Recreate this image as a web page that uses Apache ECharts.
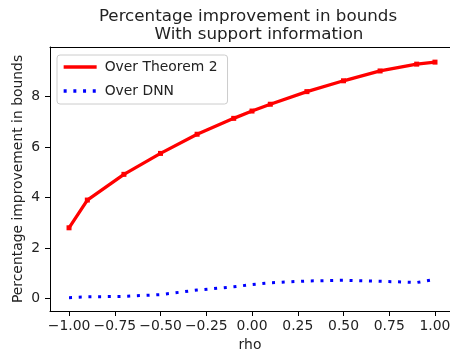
<!DOCTYPE html>
<html>
<head>
<meta charset="utf-8">
<script src="https://cdn.jsdelivr.net/npm/echarts@6/dist/echarts.min.js"></script>
<style>
  html, body { margin: 0; padding: 0; background: #fff; }
  #main { width: 450px; height: 356px; }
</style>
</head>
<body>
<div id="main"></div>
<script>
// rho values and the two improvement curves
var rho = [-1.0, -0.9, -0.7, -0.5, -0.3, -0.1, 0.0, 0.1, 0.3, 0.5, 0.7, 0.9, 1.0];
var overTheorem2 = [2.80, 3.90, 4.92, 5.75, 6.51, 7.14, 7.43, 7.70, 8.20, 8.63, 9.02, 9.29, 9.37];
var overDNN = [0.03, 0.06, 0.08, 0.15, 0.33, 0.46, 0.55, 0.62, 0.69, 0.72, 0.68, 0.63, 0.75];
var xTicks = [-1.0, -0.75, -0.5, -0.25, 0.0, 0.25, 0.5, 0.75, 1.0];
var yTicks = [0, 2, 4, 6, 8];

var FONT = 'DejaVu Sans';
var TXT = '#222';

function pairs(xs, ys) {
    return xs.map(function (x, i) { return [x, ys[i]]; });
}

var chart = echarts.init(document.getElementById('main'));
var option = {
    animation: false,
    textStyle: { fontFamily: FONT },
    title: [
        {
            text: 'Percentage improvement in bounds',
            left: 243, top: 3, textAlign: 'center',
            textStyle: { fontFamily: FONT, fontSize: 16.7, fontWeight: 'normal', color: TXT }
        },
        {
            text: 'With support information',
            left: 254, top: 21, textAlign: 'center',
            textStyle: { fontFamily: FONT, fontSize: 16.7, fontWeight: 'normal', color: TXT }
        }
    ],
    legend: {
        orient: 'vertical',
        left: 57, top: 55,
        padding: [5, 10, 6, 5],
        itemWidth: 33,
        itemHeight: 14,
        itemGap: 10,
        borderColor: '#cccccc',
        borderWidth: 1,
        borderRadius: 3,
        backgroundColor: '#fff',
        itemStyle: { opacity: 0 },
        lineStyle: { width: 3.3 },
        textStyle: { fontFamily: FONT, fontSize: 13.9, color: TXT, padding: [0, 0, 0, 3] },
        data: ['Over Theorem 2', 'Over DNN']
    },
    // plot runs a little past the right edge of the picture, so no right spine
    grid: { left: 50, top: 47, right: 0, bottom: 45, outerBoundsMode: 'none' },
    xAxis: [
        {
            type: 'value',
            min: -1.104, max: 1.082,
            name: 'rho',
            nameLocation: 'middle',
            nameGap: 27,
            nameMoveOverlap: false,
            nameTextStyle: { fontFamily: FONT, fontSize: 13.9, color: TXT },
            axisLine: { show: true, onZero: false, lineStyle: { color: '#000', width: 1 } },
            axisTick: { show: true, length: 5, customValues: xTicks, lineStyle: { color: '#000' } },
            axisLabel: {
                customValues: xTicks,
                margin: 8,
                fontFamily: FONT, fontSize: 13.9, color: TXT,
                formatter: function (v) {
                    return (v < 0 ? '\u2212' : '') + Math.abs(v).toFixed(2);
                }
            },
            splitLine: { show: false }
        },
        {
            // top spine only
            type: 'value',
            position: 'top',
            min: -1.104, max: 1.082,
            axisLine: { show: true, onZero: false, lineStyle: { color: '#000', width: 1 } },
            axisTick: { show: false },
            axisLabel: { show: false },
            splitLine: { show: false }
        }
    ],
    yAxis: {
        type: 'value',
        min: -0.5, max: 9.97,
        name: 'Percentage improvement in bounds',
        nameLocation: 'middle',
        nameGap: 25,
        nameMoveOverlap: false,
        nameTextStyle: { fontFamily: FONT, fontSize: 13.9, color: TXT },
        axisLine: { show: true, onZero: false, lineStyle: { color: '#000', width: 1 } },
        axisTick: { show: true, length: 5, customValues: yTicks, lineStyle: { color: '#000' } },
        axisLabel: {
            customValues: yTicks,
            margin: 10,
            fontFamily: FONT, fontSize: 13.9, color: TXT
        },
        splitLine: { show: false }
    },
    series: [
        {
            name: 'Over Theorem 2',
            type: 'line',
            data: pairs(rho, overTheorem2),
            symbol: 'rect',
            symbolSize: 5,
            itemStyle: { color: '#ff0000' },
            lineStyle: { color: '#ff0000', width: 3.3 }
        },
        {
            name: 'Over DNN',
            type: 'line',
            data: pairs(rho, overDNN),
            symbol: 'none',
            itemStyle: { color: '#0000ff' },
            lineStyle: { color: '#0000ff', width: 3, type: [3, 6.7], cap: 'butt' }
        }
    ]
};
chart.setOption(option);
</script>
</body>
</html>
